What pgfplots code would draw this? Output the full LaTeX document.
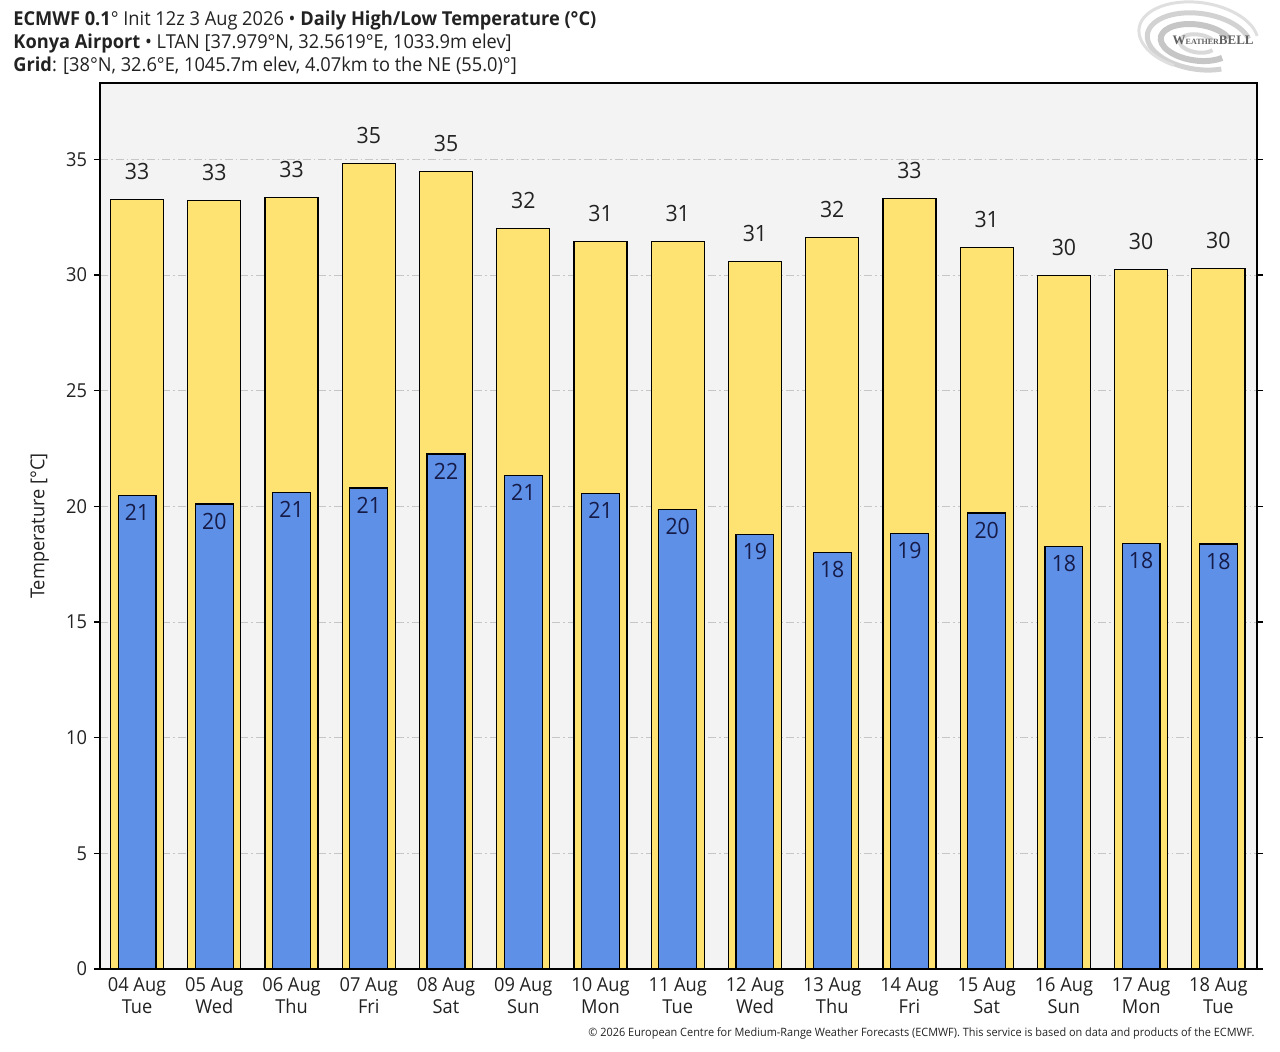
\documentclass[border=0pt]{standalone}
\usepackage{fontspec}
\setmainfont[FakeStretch=0.95]{Open Sans}
\usepackage{pgfplots}
\usepackage{pgfplotstable}
\pgfplotsset{compat=1.18}
\definecolor{hi}{HTML}{FFE372}
\definecolor{lo}{HTML}{5E90E8}
\definecolor{bg}{HTML}{F3F3F3}
\definecolor{navy}{HTML}{161B48}
\definecolor{txt}{HTML}{222222}
\pgfplotstableread{
x y l
0 33.27 33
1 33.23 33
2 33.36 33
3 34.83 35
4 34.49 35
5 32.02 32
6 31.46 31
7 31.46 31
8 30.60 31
9 31.63 32
10 33.32 33
11 31.20 31
12 29.99 30
13 30.25 30
14 30.29 30
}\hightab
\pgfplotstableread{
x y l
0 20.48 21
1 20.10 20
2 20.61 21
3 20.79 21
4 22.26 22
5 21.35 21
6 20.57 21
7 19.88 20
8 18.80 19
9 18.02 18
10 18.84 19
11 19.71 20
12 18.28 18
13 18.41 18
14 18.37 18
}\lowtab
\begin{document}
\begin{tikzpicture}
\path[use as bounding box] (0,0) rectangle (640pt,-525.5pt);
\begin{scope}[every node/.style={anchor=base west, inner sep=0pt, font=\fontsize{9.6}{11}\selectfont, text=txt}]
\node at (6.5pt,-12.5pt) {\textbf{ECMWF 0.1}° Init 12z 3 Aug 2026 • \textbf{Daily High/Low Temperature (°C)}};
\node at (6.5pt,-24pt) {\textbf{Konya Airport} • LTAN [37.979°N, 32.5619°E, 1033.9m elev]};
\node at (6.5pt,-35.5pt) {\textbf{Grid}: [38°N, 32.6°E, 1045.7m elev, 4.07km to the NE (55.0)°]};
\end{scope}
% logo
\begin{scope}[shift={(600pt,-20pt)}, rotate=-8]
\draw[gray!35, line width=2.5pt] (24pt,4pt) arc[start angle=20, end angle=300, x radius=26pt, y radius=14pt];
\draw[gray!25, line width=1.5pt] (28pt,6pt) arc[start angle=15, end angle=250, x radius=30pt, y radius=17pt];
\draw[gray!45, line width=3pt] (14pt,3pt) arc[start angle=30, end angle=320, x radius=18pt, y radius=9pt];
\draw[gray!30, line width=2pt] (6pt,1pt) arc[start angle=40, end angle=330, x radius=9pt, y radius=4.5pt];
\end{scope}
\node[anchor=east, inner sep=0pt, text=gray!75!black, font=\fontsize{6.5}{7}\selectfont\bfseries] at (627pt,-20pt) {\fontspec{Liberation Serif}W{\fontsize{4}{5}\selectfont EATHER}BELL};
\node[anchor=base east, inner sep=0pt, font=\fontsize{5.75}{6}\selectfont, text=txt] at (627.5pt,-518pt) {© 2026 European Centre for Medium-Range Weather Forecasts (ECMWF). This service is based on data and products of the ECMWF.};
\begin{axis}[
  at={(50pt,-41.5pt)}, anchor=north west,
  scale only axis, width=578.5pt, height=443pt,
  xmin=-0.48, xmax=14.5, ymin=0, ymax=38.3,
  axis background/.style={fill=bg},
  axis line style={black, line width=0.7pt},
  ytick={0,5,...,35},
  xtick={0,...,14},
  xticklabels={{04 Aug\\Tue},{05 Aug\\Wed},{06 Aug\\Thu},{07 Aug\\Fri},{08 Aug\\Sat},{09 Aug\\Sun},{10 Aug\\Mon},{11 Aug\\Tue},{12 Aug\\Wed},{13 Aug\\Thu},{14 Aug\\Fri},{15 Aug\\Sat},{16 Aug\\Sun},{17 Aug\\Mon},{18 Aug\\Tue}},
  x tick label style={align=center, font=\fontsize{9.6}{11}\selectfont, text=txt, inner sep=1pt},
  y tick label style={font=\fontsize{9.6}{11}\selectfont, text=txt},
  /pgf/number format/assume math mode=true,
  tick align=outside, major tick length=3pt,
  xtick style={draw=none},
  ytick style={black, line width=0.6pt},
  ymajorgrids,
  grid style={gray!45, line width=0.5pt, dash pattern=on 4pt off 1.5pt on 0.8pt off 1.5pt},
  ylabel={Temperature [°C]},
  ylabel style={at={(axis description cs:-0.052,0.5)}, anchor=center, font=\fontsize{9.6}{11}\selectfont, text=txt},
  clip=false,
]
\addplot[ybar, bar width=0.687, bar shift=0pt, fill=hi, draw=black, line width=0.6pt,
  nodes near coords, point meta=explicit symbolic,
  every node near coord/.append style={anchor=center, yshift=14pt, font=\fontsize{11.2}{12}\selectfont, text=txt}]
  table[x=x, y=y, meta=l] {\hightab};
\addplot[ybar, bar width=0.49, bar shift=0pt, fill=lo, draw=black, line width=0.6pt,
  nodes near coords, point meta=explicit symbolic,
  every node near coord/.append style={anchor=center, yshift=-8.5pt, font=\fontsize{11.2}{12}\selectfont, text=navy}]
  table[x=x, y=y, meta=l] {\lowtab};
\end{axis}
\end{tikzpicture}
\end{document}
